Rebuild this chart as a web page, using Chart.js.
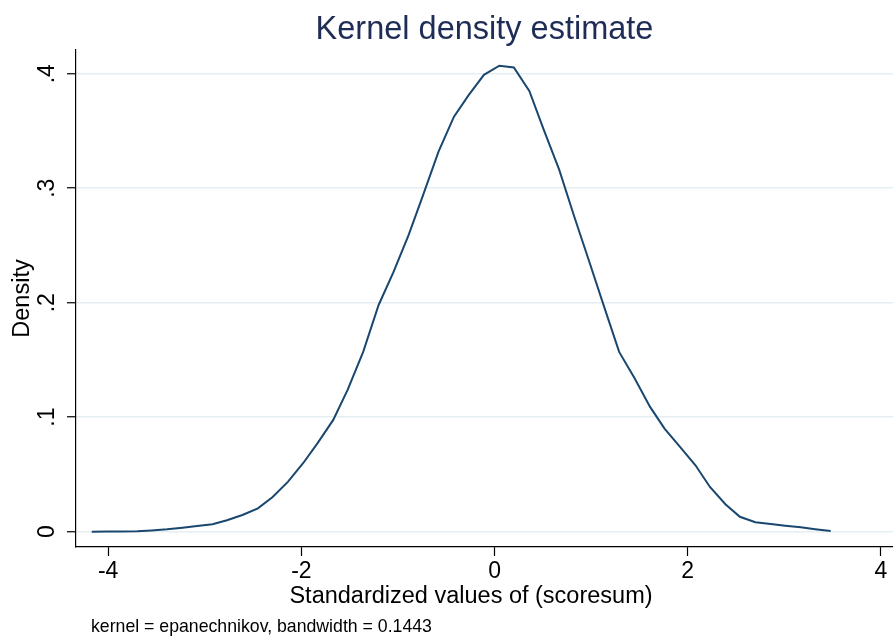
<!DOCTYPE html>
<html>
<head>
<meta charset="utf-8">
<script src="https://cdn.jsdelivr.net/npm/chart.js@4.4.1/dist/chart.umd.min.js"></script>
<style>
  html, body { margin: 0; padding: 0; background: #ffffff; }
  #wrap { width: 893px; height: 643px; }
</style>
</head>
<body>
<div id="wrap"><canvas id="c" width="893" height="643"></canvas></div>
<script>
// ---- Data ----
const xValues = [-4.17,-4.01,-3.86,-3.70,-3.55,-3.39,-3.23,-3.08,-2.92,-2.77,
                 -2.61,-2.45,-2.30,-2.14,-1.98,-1.83,-1.67,-1.52,-1.36,-1.20,
                 -1.05,-0.89,-0.74,-0.58,-0.42,-0.27,-0.11,0.05,0.20,0.36,
                 0.51,0.67,0.83,0.98,1.14,1.29,1.45,1.61,1.76,1.92,
                 2.08,2.23,2.39,2.54,2.70,2.86,3.01,3.17,3.32,3.48];
const densityValues = [0.0000,0.0001,0.0001,0.0003,0.0010,0.0020,0.0035,0.0050,0.0065,0.0100,
                       0.0146,0.0204,0.0300,0.0435,0.0600,0.0775,0.0976,0.1240,0.1570,0.1980,
                       0.2260,0.2590,0.2940,0.3320,0.3625,0.3810,0.3990,0.4070,0.4055,0.3850,
                       0.3510,0.3160,0.2740,0.2360,0.1950,0.1570,0.1340,0.1090,0.0900,0.0740,
                       0.0580,0.0390,0.0240,0.0130,0.0082,0.0067,0.0052,0.0038,0.0022,0.0006];
const xTickValues = [-4, -2, 0, 2, 4];
const xTickLabels = ['-4', '-2', '0', '2', '4'];
const yTickValues = [0, 0.1, 0.2, 0.3, 0.4];
const yTickLabels = ['0', '.1', '.2', '.3', '.4'];
const titleText = 'Kernel density estimate';
const xTitleText = 'Standardized values of (scoresum)';
const yTitleText = 'Density';
const noteText = 'kernel = epanechnikov, bandwidth = 0.1443';

const FONT = "'Liberation Sans', Arial, sans-serif";

const textPlugin = {
  id: 'extraText',
  afterDraw(chart) {
    const ctx = chart.ctx;
    ctx.save();
    ctx.fillStyle = '#000000';
    ctx.textBaseline = 'middle';
    // x-axis title (Stata centres it slightly left of the plot centre)
    ctx.font = '23.5px ' + FONT;
    ctx.textAlign = 'center';
    ctx.fillText(xTitleText, 471, 596.5);
    // note
    ctx.font = '17.7px ' + FONT;
    ctx.textAlign = 'left';
    ctx.fillText(noteText, 91, 627);
    ctx.restore();
  }
};

const points = xValues.map((x, i) => ({ x: x, y: densityValues[i] }));

new Chart(document.getElementById('c'), {
  type: 'line',
  data: {
    datasets: [{
      data: points,
      borderColor: '#1a476f',
      borderWidth: 2,
      pointRadius: 0,
      tension: 0,
      fill: false
    }]
  },
  options: {
    responsive: false,
    animation: false,
    devicePixelRatio: 1,
    layout: { padding: { left: 0, right: 0, top: 0, bottom: 0 } },
    plugins: {
      legend: { display: false },
      tooltip: { enabled: false },
      title: {
        display: true,
        text: titleText,
        fullSize: false,
        color: '#1f2c55',
        font: { family: FONT, size: 32.5, weight: 'normal' },
        padding: { top: 10.5, bottom: 0.5 }
      }
    },
    scales: {
      x: {
        type: 'linear',
        min: -4.333,
        max: 4.125,
        afterBuildTicks(scale) { scale.ticks = xTickValues.map(v => ({ value: v })); },
        afterFit(scale) { scale.height = 96; },
        ticks: {
          autoSkip: false,
          maxRotation: 0,
          minRotation: 0,
          padding: 1.5,
          color: '#000000',
          font: { family: FONT, size: 23 },
          callback: (v) => { const i = xTickValues.indexOf(v); return i >= 0 ? xTickLabels[i] : ''; }
        },
        grid: {
          drawOnChartArea: false,
          drawTicks: true,
          tickLength: 9,
          tickColor: '#000000',
          tickWidth: 1.2
        },
        border: { display: true, color: '#000000', width: 1.2 },
        title: { display: false }
      },
      y: {
        type: 'linear',
        min: -0.0134,
        max: 0.4207,
        afterBuildTicks(scale) { scale.ticks = yTickValues.map(v => ({ value: v })); },
        afterFit(scale) { scale.width = 76; },
        ticks: {
          autoSkip: false,
          minRotation: 90,
          maxRotation: 90,
          crossAlign: 'center',
          padding: 9.5,
          color: '#000000',
          font: { family: FONT, size: 23 },
          callback: (v) => {
            let i = -1;
            yTickValues.forEach((t, k) => { if (Math.abs(t - v) < 1e-9) i = k; });
            return i >= 0 ? yTickLabels[i] : '';
          }
        },
        grid: {
          color: '#e6eef1',
          lineWidth: 1.5,
          drawTicks: true,
          tickLength: 9,
          tickColor: '#000000',
          tickWidth: 1.2
        },
        border: { display: true, color: '#000000', width: 1.2 },
        title: {
          display: true,
          text: yTitleText,
          color: '#000000',
          font: { family: FONT, size: 23.5 },
          padding: { top: 8.5, bottom: 0 }
        }
      }
    }
  },
  plugins: [textPlugin]
});
</script>
</body>
</html>
